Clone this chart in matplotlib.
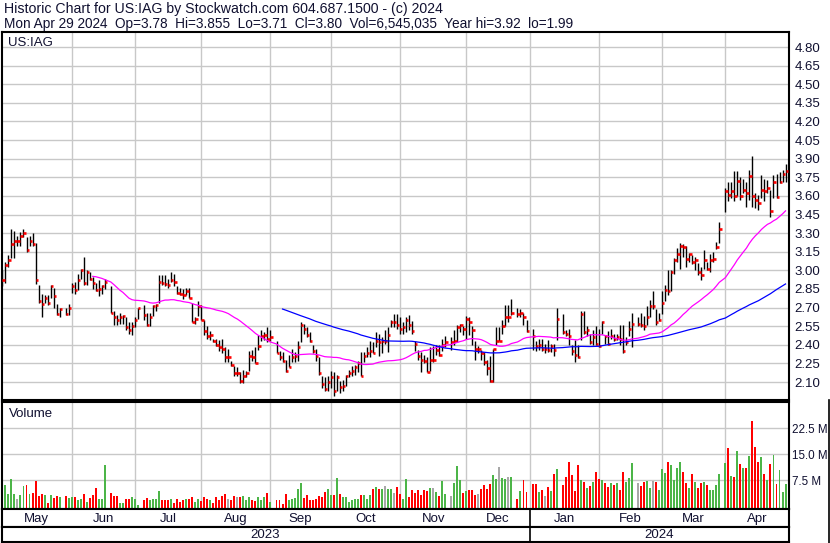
import numpy as np
import pandas as pd
import matplotlib
matplotlib.use('Agg')
import matplotlib.pyplot as plt

plt.rcParams['font.family'] = ['Liberation Sans', 'DejaVu Sans']

# NYSE holidays inside the window (kept as empty slots on the chart)
holidays = ['2023-05-29', '2023-06-19', '2023-07-04', '2023-09-04', '2023-11-23',
            '2023-12-25', '2024-01-01', '2024-01-15', '2024-02-19', '2024-03-29']

# daily high / low / close, one line per month
high = [3.00, 3.07, 3.12, 3.33, 3.32, 3.28, 3.31, 3.33, 3.27, 3.28, 3.30, 3.22, 2.88, 2.81, 2.80, 2.80, 2.88, 2.86, 2.73, 2.70, 2.70, 2.73,
        2.90, 2.91, 2.97, 3.01, 3.11, 3.00, 2.99, 2.95, 2.90, 2.92, 2.88, 2.93, 2.87, 2.67, 2.64, 2.66, 2.64, 2.62, 2.58, 2.58, 2.62,
        2.70, 2.72, 2.66, 2.66, 2.72, 2.73, 2.96, 2.96, 2.96, 2.93, 2.99, 2.97, 2.87, 2.86, 2.85, 2.86, 2.86, 2.74, 2.62, 2.75,
        2.72, 2.60, 2.55, 2.51, 2.45, 2.45, 2.44, 2.45, 2.38, 2.37, 2.27, 2.23, 2.22, 2.18, 2.20, 2.19, 2.35, 2.36, 2.38, 2.48, 2.52, 2.50, 2.54,
        2.52, 2.43, 2.35, 2.34, 2.28, 2.32, 2.37, 2.34, 2.43, 2.58, 2.57, 2.54, 2.50, 2.40, 2.37, 2.30, 2.15, 2.14, 2.15, 2.19,
        2.18, 2.16, 2.11, 2.12, 2.16, 2.20, 2.23, 2.24, 2.27, 2.34, 2.34, 2.38, 2.43, 2.42, 2.50, 2.49, 2.46, 2.52, 2.54, 2.60, 2.65, 2.65,
        2.62, 2.58, 2.62, 2.64, 2.59, 2.43, 2.36, 2.34, 2.32, 2.30, 2.38, 2.39, 2.40, 2.40, 2.45, 2.47, 2.46, 2.52, 2.56, 2.57, 2.55,
        2.63, 2.62, 2.55, 2.43, 2.39, 2.36, 2.34, 2.28, 2.31, 2.37, 2.54, 2.54, 2.60, 2.72, 2.72, 2.77, 2.70, 2.69, 2.66, 2.60,
        2.53, 2.43, 2.45, 2.45, 2.41, 2.44, 2.41, 2.41, 2.70, 2.65, 2.52, 2.53, 2.40, 2.44, 2.40, 2.67, 2.67, 2.55, 2.49, 2.52, 2.55,
        2.53, 2.59, 2.48, 2.51, 2.53, 2.49, 2.49, 2.56, 2.56, 2.46, 2.59, 2.66, 2.62, 2.66, 2.63, 2.71, 2.76, 2.83, 2.69, 2.66,
        2.83, 2.88, 3.00, 3.00, 3.10, 3.18, 3.22, 3.21, 3.20, 3.14, 3.12, 3.11, 3.06, 3.03, 3.16, 3.07, 3.13, 3.15, 3.23, 3.39,
        3.66, 3.71, 3.71, 3.80, 3.80, 3.75, 3.74, 3.71, 3.81, 3.92, 3.62, 3.61, 3.77, 3.74, 3.73, 3.65, 3.77, 3.78, 3.79, 3.81, 3.855]

low = [2.87, 2.90, 3.03, 3.10, 3.10, 3.20, 3.20, 3.27, 3.15, 3.20, 3.20, 2.89, 2.74, 2.62, 2.74, 2.72, 2.78, 2.70, 2.64, 2.62, 2.64, 2.64,
       2.82, 2.81, 2.84, 2.93, 2.88, 2.88, 2.92, 2.85, 2.83, 2.79, 2.81, 2.85, 2.66, 2.56, 2.56, 2.57, 2.57, 2.52, 2.49, 2.48, 2.54,
       2.61, 2.60, 2.55, 2.55, 2.63, 2.67, 2.74, 2.88, 2.87, 2.86, 2.91, 2.87, 2.81, 2.80, 2.77, 2.80, 2.78, 2.58, 2.57, 2.63,
       2.60, 2.48, 2.45, 2.44, 2.42, 2.39, 2.35, 2.33, 2.26, 2.26, 2.23, 2.15, 2.15, 2.09, 2.09, 2.14, 2.19, 2.27, 2.25, 2.36, 2.43, 2.44, 2.42,
       2.43, 2.33, 2.28, 2.26, 2.18, 2.22, 2.26, 2.26, 2.27, 2.42, 2.49, 2.46, 2.42, 2.33, 2.27, 2.16, 2.05, 2.03, 2.03, 2.05,
       1.99, 2.03, 2.01, 2.03, 2.07, 2.14, 2.15, 2.16, 2.18, 2.15, 2.26, 2.30, 2.30, 2.33, 2.38, 2.31, 2.33, 2.41, 2.34, 2.54, 2.54, 2.53,
       2.49, 2.49, 2.50, 2.52, 2.49, 2.35, 2.28, 2.18, 2.25, 2.18, 2.19, 2.26, 2.32, 2.31, 2.35, 2.38, 2.36, 2.40, 2.42, 2.50, 2.48,
       2.45, 2.48, 2.40, 2.28, 2.33, 2.28, 2.24, 2.16, 2.10, 2.10, 2.40, 2.43, 2.49, 2.55, 2.58, 2.64, 2.62, 2.62, 2.56, 2.50,
       2.36, 2.35, 2.36, 2.35, 2.33, 2.34, 2.34, 2.31, 2.44, 2.49, 2.47, 2.40, 2.32, 2.26, 2.29, 2.44, 2.49, 2.47, 2.41, 2.40, 2.40,
       2.38, 2.49, 2.41, 2.40, 2.45, 2.43, 2.44, 2.40, 2.33, 2.40, 2.47, 2.38, 2.55, 2.54, 2.52, 2.56, 2.62, 2.69, 2.56, 2.59,
       2.65, 2.75, 2.80, 2.83, 2.97, 3.07, 3.01, 3.11, 3.03, 3.07, 3.05, 3.00, 2.96, 2.92, 3.01, 3.00, 2.99, 3.07, 3.17, 3.22,
       3.47, 3.56, 3.58, 3.56, 3.60, 3.57, 3.62, 3.51, 3.57, 3.51, 3.50, 3.49, 3.58, 3.56, 3.62, 3.43, 3.58, 3.58, 3.70, 3.71, 3.71]

close = [2.92, 3.04, 3.08, 3.21, 3.24, 3.24, 3.28, 3.30, 3.16, 3.24, 3.21, 2.92, 2.75, 2.73, 2.78, 2.74, 2.87, 2.79, 2.65, 2.69, 2.65, 2.70,
         2.87, 2.84, 2.92, 3.00, 2.90, 2.99, 2.93, 2.90, 2.84, 2.85, 2.87, 2.91, 2.66, 2.62, 2.60, 2.62, 2.63, 2.54, 2.52, 2.55, 2.60,
         2.70, 2.64, 2.56, 2.62, 2.71, 2.72, 2.91, 2.90, 2.89, 2.88, 2.92, 2.91, 2.82, 2.81, 2.80, 2.83, 2.78, 2.58, 2.61, 2.71,
         2.60, 2.51, 2.47, 2.48, 2.43, 2.40, 2.38, 2.37, 2.30, 2.30, 2.24, 2.17, 2.17, 2.11, 2.15, 2.17, 2.31, 2.30, 2.25, 2.39, 2.47, 2.48, 2.45,
         2.46, 2.33, 2.30, 2.27, 2.19, 2.22, 2.30, 2.31, 2.38, 2.56, 2.53, 2.48, 2.43, 2.35, 2.31, 2.17, 2.08, 2.04, 2.10, 2.14,
         2.03, 2.14, 2.06, 2.07, 2.15, 2.17, 2.19, 2.22, 2.25, 2.15, 2.31, 2.33, 2.35, 2.33, 2.43, 2.42, 2.43, 2.43, 2.48, 2.58, 2.58, 2.56,
         2.53, 2.54, 2.60, 2.56, 2.51, 2.41, 2.31, 2.28, 2.27, 2.18, 2.28, 2.28, 2.36, 2.32, 2.40, 2.42, 2.42, 2.43, 2.54, 2.56, 2.53,
         2.61, 2.58, 2.52, 2.37, 2.37, 2.33, 2.26, 2.21, 2.11, 2.37, 2.43, 2.43, 2.55, 2.62, 2.62, 2.66, 2.65, 2.66, 2.62, 2.51,
         2.47, 2.39, 2.40, 2.37, 2.37, 2.36, 2.39, 2.36, 2.61, 2.50, 2.49, 2.47, 2.35, 2.32, 2.30, 2.65, 2.50, 2.52, 2.42, 2.46, 2.41,
         2.39, 2.58, 2.47, 2.41, 2.47, 2.45, 2.46, 2.45, 2.35, 2.42, 2.53, 2.57, 2.57, 2.56, 2.55, 2.62, 2.71, 2.71, 2.58, 2.60,
         2.74, 2.84, 2.83, 2.99, 3.08, 3.13, 3.20, 3.19, 3.09, 3.13, 3.07, 3.08, 2.99, 2.96, 3.08, 3.01, 3.08, 3.09, 3.19, 3.33,
         3.64, 3.61, 3.64, 3.60, 3.72, 3.60, 3.65, 3.62, 3.76, 3.60, 3.57, 3.54, 3.65, 3.64, 3.66, 3.48, 3.71, 3.59, 3.71, 3.78, 3.80]

# daily volume, millions of shares
volume = [3.2, 6.1, 3.5, 7.8, 3.5, 2.0, 3.2, 5.8, 6.1, 3.6, 3.9, 7.2, 2.9, 3.5, 3.2, 0.9, 3.2, 2.4, 2.9, 2.7, 2.9, 2.4,
          2.6, 2.7, 1.7, 2.0, 3.5, 1.2, 2.4, 3.4, 5.3, 2.0, 2.0, 11.9, 3.8, 2.9, 2.9, 1.0, 1.0, 2.2, 2.0, 2.7, 2.0,
          0.3, 1.7, 2.4, 1.7, 2.0, 2.2, 4.3, 1.7, 1.7, 1.7, 2.0, 0.9, 2.2, 1.2, 1.7, 2.2, 2.2, 2.7, 1.2, 2.0,
          1.4, 2.7, 2.2, 1.7, 0.9, 2.7, 1.7, 3.0, 3.5, 2.2, 1.7, 2.9, 2.7, 2.7, 2.9, 1.7, 2.7, 1.7, 1.4, 2.7, 1.7, 2.7, 3.8,
          1.2, 1.7, 1.7, 0.6, 3.5, 1.7, 2.0, 2.5, 4.9, 6.7, 2.4, 3.4, 1.7, 1.7, 2.2, 2.9, 2.7, 4.1, 4.9, 3.4,
          3.4, 8.2, 3.5, 2.7, 2.7, 1.2, 1.7, 2.0, 2.0, 3.2, 3.2, 2.0, 3.2, 4.9, 5.6, 4.9, 4.9, 5.9, 4.9, 4.9, 3.8, 5.6,
          3.5, 2.0, 8.0, 2.7, 4.6, 3.7, 4.6, 3.2, 4.6, 4.4, 5.4, 5.4, 4.2, 3.0, 7.3, 3.5, 2.9, 6.6, 11.6, 7.5, 3.8,
          4.4, 4.8, 4.8, 3.4, 3.5, 5.1, 6.1, 4.9, 6.3, 9.0, 7.8, 11.2, 8.3, 7.8, 8.5, 8.5, 2.0, 4.4, 7.5, 4.0,
          6.3, 6.3, 4.2, 4.6, 2.9, 5.5, 4.4, 9.3, 10.7, 6.1, 8.4, 12.7, 9.0, 4.4, 11.9, 7.5, 6.9, 5.3, 5.9, 7.1, 9.8,
          7.8, 7.7, 6.6, 5.6, 6.6, 6.1, 6.6, 4.6, 9.8, 6.9, 8.2, 12.4, 6.6, 5.8, 6.9, 7.3, 5.3, 7.3, 6.9, 4.6,
          10.7, 9.7, 12.9, 11.8, 7.5, 11.1, 12.7, 9.8, 6.8, 5.3, 9.2, 6.9, 5.3, 6.6, 6.9, 6.1, 4.6, 4.8, 6.1, 9.2,
          12.4, 16.7, 8.7, 8.5, 16.0, 12.1, 11.1, 11.1, 14.5, 24.7, 17.0, 12.9, 14.2, 9.3, 7.5, 12.2, 14.8, 6.4, 10.5, 4.2, 6.5]

month_names = ['May', 'Jun', 'Jul', 'Aug', 'Sep', 'Oct', 'Nov', 'Dec', 'Jan', 'Feb', 'Mar', 'Apr']
years = ['2023', '2024']

# x position = weekday slot, so holidays leave a gap
weekdays = pd.bdate_range('2023-05-01', '2024-04-29')
days = weekdays[~weekdays.isin(pd.to_datetime(holidays))]
x = weekdays.get_indexer(days)

c = pd.Series(close)
ma30 = c.rolling(30).mean()
ma90 = c.rolling(90).mean()
chg = c.diff().fillna(0).values
colors = np.where(chg > 0, '#4CB548', np.where(chg < 0, '#FF0000', '#A8A8A8'))

month_starts = pd.date_range('2023-06-01', '2024-04-01', freq='MS')
grid_x = weekdays.searchsorted(month_starts, side='right') - 1
x0, x1 = -0.3, 261.05
edges = [x0] + list(grid_x) + [x1]
jan_x = grid_x[7]

W, H = 830, 543
fig = plt.figure(figsize=(W / 100, H / 100), dpi=100)


def box(l, t, r, b):
    return [l / W, 1 - b / H, (r - l) / W, (b - t) / H]


grid_c = '#C8C8C8'
txt_c = '#101030'

# price panel
ax = fig.add_axes(box(1.5, 32, 788.7, 399.5))
ax.set_xlim(x0, x1)
ax.set_ylim(1.959, 4.921)
ax.set_yticks(np.round(np.arange(2.10, 4.81, 0.15), 2))
ax.yaxis.tick_right()
ax.yaxis.set_major_formatter(plt.FormatStrFormatter('%.2f'))
ax.tick_params(axis='y', length=0, pad=4, labelsize=9.5, labelcolor=txt_c)
ax.set_xticks([])
ax.grid(axis='y', color=grid_c, lw=1.0)
for g in grid_x:
    ax.axvline(g, color=grid_c, lw=1.0, zorder=0)
ax.vlines(x, low, high, color='black', lw=1.0, zorder=2)
ax.hlines(close, x, x + 0.8, color='#FF0000', lw=1.9, zorder=3)
ax.plot(x, ma30, color='#FF00FF', lw=0.9, zorder=4)
ax.plot(x, ma90, color='#0000FF', lw=0.9, zorder=4)
ax.text(0.008, 0.97, 'US:IAG', transform=ax.transAxes, fontsize=9.5, color=txt_c, va='center')
for s in ax.spines.values():
    s.set_color('black')
    s.set_linewidth(1.5)

# volume panel
axv = fig.add_axes(box(1.5, 402, 788.7, 509))
axv.set_xlim(x0, x1)
vbot = -0.78
axv.set_ylim(vbot, 30.1)
axv.bar(x, np.array(volume) - vbot, bottom=vbot, width=0.65, color=colors, zorder=2)
axv.set_yticks([7.5, 15.0, 22.5])
axv.yaxis.tick_right()
axv.yaxis.set_major_formatter(plt.FormatStrFormatter('%.1f M'))
axv.tick_params(axis='y', length=0, pad=2.5, labelsize=8.4, labelcolor=txt_c)
axv.set_xticks([])
axv.grid(axis='y', color=grid_c, lw=1.0)
for g in grid_x:
    axv.axvline(g, color=grid_c, lw=1.0, zorder=0)
axv.text(0.01, 0.89, 'Volume', transform=axv.transAxes, fontsize=9.5, color=txt_c, va='center')
for s in axv.spines.values():
    s.set_color('black')
    s.set_linewidth(1.5)

# month row
axm = fig.add_axes(box(1.5, 509, 788.7, 527))
axm.set_xlim(x0, x1)
axm.set_ylim(0, 1)
axm.set_xticks([])
axm.set_yticks([])
for i, m in enumerate(month_names):
    axm.text((edges[i] + edges[i + 1]) / 2, 0.45, m, ha='center', va='center', fontsize=9.5, color=txt_c)
axm.axvline(jan_x, color='black', lw=1.2)
for s in axm.spines.values():
    s.set_color('black')
    s.set_linewidth(1.5)

# year row
axy = fig.add_axes(box(1.5, 527, 788.7, 542))
axy.set_xlim(x0, x1)
axy.set_ylim(0, 1)
axy.set_xticks([])
axy.set_yticks([])
axy.text((x0 + jan_x) / 2, 0.45, years[0], ha='center', va='center', fontsize=9.5, color=txt_c)
axy.text((jan_x + x1) / 2, 0.45, years[1], ha='center', va='center', fontsize=9.5, color=txt_c)
axy.axvline(jan_x, color='black', lw=1.2)
for s in axy.spines.values():
    s.set_color('black')
    s.set_linewidth(1.5)

fig.add_artist(plt.Line2D([828.5 / W, 828.5 / W], [0, 1 - 400 / H], color='black', lw=1.2))

fig.text(4 / W, 1 - 8.5 / H, 'Historic Chart for US:IAG by Stockwatch.com 604.687.1500 - (c) 2024',
         fontsize=10.2, color=txt_c, va='center')
fig.text(4 / W, 1 - 24 / H,
         'Mon Apr 29 2024  Op=3.78  Hi=3.855  Lo=3.71  Cl=3.80  Vol=6,545,035  Year hi=3.92  lo=1.99',
         fontsize=9.8, color=txt_c, va='center')

fig.savefig('out.png', dpi=100)
